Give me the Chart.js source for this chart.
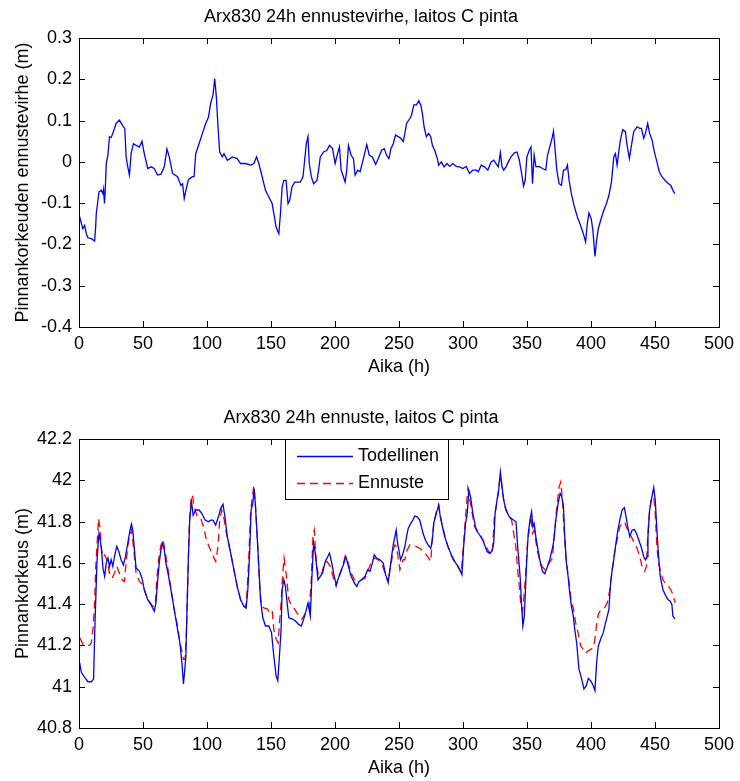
<!DOCTYPE html>
<html>
<head>
<meta charset="utf-8">
<script src="https://cdn.jsdelivr.net/npm/chart.js@4/dist/chart.umd.min.js"></script>
<style>
  html, body { margin: 0; padding: 0; background: #fff; overflow: hidden; }
  .panel { position: absolute; left: 0; width: 740px; height: 380px; }
</style>
</head>
<body>
<div class="panel" style="top:0"><canvas id="chart-error" width="740" height="380"></canvas></div>
<div class="panel" style="top:401px"><canvas id="chart-level" width="740" height="380"></canvas></div>
<script>
// axis ticks
const hourTicks = [0, 50, 100, 150, 200, 250, 300, 350, 400, 450, 500];
const errTicks = [-0.4, -0.3, -0.2, -0.1, 0, 0.1, 0.2, 0.3];
const levelTicks = [40.8, 41, 41.2, 41.4, 41.6, 41.8, 42, 42.2];

// forecast error (m)
const errHours = [0.5,3,4.4,5.7,7,9.6,12.2,13,13.5,14.8,15.6,17.4,18.7,19.2,19.9,20.5,21.3,22.6,23.8,25.1,26.4,29,31.6,34.2,35.8,36.8,38.1,39.4,40.7,42.5,44.6,47.2,49.2,51,53.7,56.2,58.8,61.4,64,66.6,68.7,70.5,73.1,77,79.6,80.9,82.2,83.5,85.5,88.6,89.9,91.2,93.8,96.4,99,101.1,102.9,104.7,106,107.3,108.6,109.9,112,113.3,115.9,119.8,123.6,126.2,130,134,136.6,138.7,140.5,143.1,145.7,148.3,150.9,152.2,154,156.1,157.4,158.7,160,161.8,163.3,164.6,166.4,168.5,170.7,172.9,175,176.3,177.6,178.9,179.9,181.5,183.3,185.9,187.2,188.5,191.1,193.7,195.7,198.1,200.1,202,203.5,204.8,206.6,207.9,209.2,210.5,212.6,214.4,215.7,217.8,219.6,222.2,224.8,226.8,229.2,231.8,233.8,236.4,238.5,240.3,242.1,243.7,245.5,247.3,249.4,251.5,253.3,254.6,255.9,258.5,259.8,261.6,263.6,265.5,267,268.3,269.6,271.4,273.2,274.8,276.1,277.9,280,281,283.1,285.2,287.5,289.6,292.2,294.7,297.3,299.9,302.5,305.1,307.7,310.3,312,314.2,316.8,319.4,322,324,325.8,327.6,329.2,330.5,331.8,333.6,335.4,337.5,340.1,342.2,344,345.8,347.3,348.6,349.9,351.8,353.1,354.3,355.6,357,359.5,362.1,364.7,366,368.1,369.9,370.7,372,373.3,375.1,376.9,378.5,380.3,381.6,382.9,384.7,386.7,389.3,391.9,394,395.8,397.1,398.4,400.2,401.5,403.1,404.4,405.7,407.5,409.6,412.1,414,416,417.8,419.1,420.4,421.7,423,424.8,426.9,428.2,430,431.6,433.4,436,438.1,439.4,441.2,442.5,444.3,445.8,447.7,449.5,451.5,453.4,455.4,458,460.6,462.4,464,465.5];
const errValues = [-0.133,-0.162,-0.154,-0.174,-0.184,-0.186,-0.192,-0.158,-0.125,-0.093,-0.073,-0.069,-0.077,-0.067,-0.101,-0.069,-0.004,0.016,0.061,0.059,0.069,0.093,0.101,0.087,0.081,0.012,-0.012,-0.032,0.02,0.044,0.04,0.036,0.05,0.02,-0.016,-0.012,-0.016,-0.032,-0.03,-0.012,0.031,0.012,-0.028,-0.036,-0.057,-0.053,-0.089,-0.069,-0.043,-0.036,-0.036,0.02,0.044,0.069,0.093,0.108,0.142,0.162,0.202,0.158,0.085,0.024,0.012,0.02,0.004,0.012,0.008,-0.004,-0.004,-0.008,-0.004,0.012,-0.004,-0.036,-0.069,-0.085,-0.101,-0.125,-0.158,-0.174,-0.125,-0.061,-0.045,-0.045,-0.101,-0.093,-0.061,-0.049,-0.049,-0.049,-0.036,0.004,0.044,0.061,-0.004,-0.036,-0.053,-0.045,-0.02,0.012,0.024,0.028,0.04,0.032,-0.004,0.02,0.036,-0.02,-0.036,-0.049,-0.02,0.04,0.016,0.008,-0.032,-0.02,-0.024,0.008,0.042,0.016,0.012,-0.006,0.008,0.028,0.032,0.016,0.008,0.032,0.044,0.065,0.061,0.057,0.049,0.069,0.093,0.105,0.113,0.138,0.138,0.148,0.138,0.117,0.085,0.061,0.069,0.061,0.04,0.028,0.008,-0.008,0,-0.012,-0.004,-0.011,-0.004,-0.011,-0.012,-0.016,-0.011,-0.028,-0.02,-0.02,-0.024,-0.008,-0.012,-0.02,0,0.004,-0.004,-0.012,0.022,-0.012,-0.02,-0.012,0,0.012,0.022,0.024,0.004,-0.028,-0.059,-0.045,0.012,0.028,0.036,-0.053,0.016,-0.012,-0.011,-0.016,-0.02,0.016,0.04,0.061,0.074,0.028,-0.02,-0.053,-0.057,-0.02,-0.019,-0.008,-0.045,-0.077,-0.105,-0.133,-0.154,-0.174,-0.194,-0.15,-0.124,-0.138,-0.166,-0.229,-0.19,-0.162,-0.142,-0.121,-0.101,-0.081,-0.049,0.012,0.02,-0.008,0.024,0.053,0.078,0.073,0.04,0.008,0.04,0.073,0.085,0.081,0.081,0.057,0.069,0.093,0.069,0.053,0.024,0,-0.024,-0.036,-0.045,-0.053,-0.057,-0.069,-0.077];

// measured water level (m)
const actualHours = [0.5,1.8,4.4,7,9.6,11.4,12.2,13,14,14.8,15.6,16.6,17.6,18.7,20,21.3,22.6,23.8,25.1,26.4,27.7,29.5,31.1,32.9,34.7,36.3,38.1,39.9,41,42,43.3,44.6,47.2,49.2,51,53.7,56.2,58.8,60.1,61.4,62.7,64,65.3,66.6,67.9,70,71.8,74.4,77,78.8,80.4,81.6,82.7,83.5,84.5,85.5,86.6,87.9,89.2,91.2,93.8,95.9,98.5,101.1,102.9,104.7,106.8,108.9,110.7,112.5,114,115.9,118.5,121,123.6,126.2,128.8,130.6,131.9,133.2,134.5,135.8,136.9,137.9,139.2,140.5,141.8,143.6,145.7,148.3,150.4,152.2,154,155.3,156.6,157.9,158.7,160,161.3,162.6,163.9,166.4,169.1,171.6,173.7,175.5,177.3,178.9,180.7,182,183.3,184.6,186.7,188.5,190.3,192.4,194.4,195.7,197.5,199.4,200.9,202.7,204.5,206.6,208.4,210.5,212.6,215.2,217,218.8,220.9,223.5,225.5,227.4,229.2,230.7,232.5,235.1,237.7,239.5,241.6,242.9,244.2,245.5,246.8,247.8,248.9,249.9,251.2,252.8,254.6,255.9,257.2,259.2,261.1,262.3,264.4,266.2,267.5,268.8,270.6,272.7,274.8,276.1,277.1,279.2,281,282.3,283.9,285.7,288.3,290.9,293.5,296.1,298.1,299.2,300.5,302,303.3,304.6,305.9,307.7,310.3,312.9,315.5,317.3,318.8,320.6,322.5,324,325.1,326.6,327.9,329.2,330.5,331.8,333.6,336.2,338.8,341.4,342.7,344,344.8,345.8,346.8,347.9,348.6,349.7,351,352.3,353.6,354.6,355.6,356.9,358.2,360,362.1,363.9,366,368.1,370.7,372.5,374.3,375.9,377.2,378.5,379.5,380.8,382.1,383.4,384.7,386.2,387.3,388.8,390.6,392.4,394.5,396.3,397.9,399.7,401.8,403.1,404.4,405.7,407.5,409.6,411.4,412.7,414,415.3,416.6,417.8,419.1,421,422.5,424.3,426.1,427.4,428.7,430.3,432.1,433.9,435.5,437.3,439.1,441.2,442.5,443.8,444.5,445.8,447.1,449,450.2,451.5,452.8,454.1,456.2,458,460.1,461.9,463.2,464,465.8];
const actualValues = [41.117,41.07,41.045,41.024,41.024,41.037,41.246,41.406,41.599,41.68,41.743,41.71,41.663,41.575,41.535,41.6,41.623,41.583,41.615,41.583,41.63,41.68,41.655,41.615,41.59,41.63,41.695,41.76,41.788,41.76,41.663,41.575,41.559,41.527,41.47,41.422,41.398,41.366,41.406,41.51,41.6,41.663,41.695,41.663,41.6,41.535,41.47,41.374,41.278,41.213,41.117,41.013,41.085,41.149,41.406,41.63,41.823,41.896,41.831,41.856,41.856,41.84,41.807,41.799,41.807,41.807,41.783,41.823,41.864,41.884,41.823,41.727,41.647,41.567,41.486,41.422,41.39,41.382,41.47,41.63,41.856,41.888,41.96,41.872,41.727,41.583,41.422,41.334,41.294,41.294,41.262,41.149,41.053,41.029,41.149,41.278,41.47,41.518,41.486,41.406,41.334,41.329,41.318,41.302,41.294,41.326,41.366,41.406,41.342,41.535,41.695,41.647,41.518,41.535,41.551,41.607,41.631,41.647,41.599,41.535,41.494,41.526,41.559,41.591,41.631,41.583,41.535,41.502,41.486,41.51,41.518,41.535,41.567,41.559,41.599,41.639,41.623,41.615,41.599,41.543,41.51,41.567,41.631,41.687,41.727,41.759,41.695,41.663,41.615,41.639,41.679,41.727,41.767,41.791,41.81,41.827,41.823,41.807,41.775,41.743,41.711,41.687,41.671,41.711,41.791,41.84,41.88,41.823,41.775,41.727,41.679,41.639,41.607,41.583,41.559,41.543,41.679,41.791,41.84,41.952,41.92,41.84,41.759,41.735,41.711,41.679,41.655,41.647,41.655,41.695,41.84,41.904,41.952,42.04,41.968,41.904,41.856,41.823,41.81,41.8,41.679,41.583,41.518,41.39,41.294,41.342,41.438,41.599,41.743,41.807,41.848,41.775,41.791,41.727,41.679,41.615,41.559,41.547,41.583,41.623,41.695,41.807,41.888,41.936,41.92,41.872,41.727,41.599,41.535,41.454,41.39,41.342,41.278,41.213,41.085,41.045,40.989,41.005,41.04,41.029,41.005,40.981,41.117,41.197,41.23,41.262,41.31,41.342,41.374,41.502,41.567,41.615,41.679,41.759,41.807,41.856,41.868,41.823,41.775,41.727,41.759,41.762,41.743,41.711,41.679,41.631,41.615,41.631,41.727,41.856,41.904,41.965,41.904,41.759,41.631,41.535,41.47,41.446,41.422,41.414,41.398,41.342,41.329];

// 24 h forecast (m)
const forecastHours = [0.5,3.1,5.7,8.3,9.6,10.9,12.2,13,14,15.3,16.6,17.6,18.7,20,21.8,23.8,25.9,27.7,29.5,31.6,33.7,35.5,36.8,38.1,39.4,41,42,43.3,44.6,47.2,49.8,51.8,54.9,57.5,59.6,60.7,62.2,64,65.8,67.9,70,72,74.4,77,78.8,80.4,81.6,82.9,84,85,86,87.4,88.6,89.9,92.5,95.1,97.7,99.5,101.6,103.7,105.5,106.8,108.6,109.9,111.5,113.3,115.1,118.5,121,123.6,126.2,128,130.1,131.4,132.7,134,135.3,136.6,137.9,139.4,141,142.6,144.4,147,148.3,150.9,152.2,154,155.6,156.6,157.9,159.2,160.2,161.8,163.9,165.1,167.7,170.3,172.1,174.2,175.5,178.1,179.9,181.5,182.8,183.8,185.4,187.2,189.8,191.8,193.7,196.3,198.8,200.9,202.7,205.3,207.9,210,212.6,215.2,218.3,220.9,223.5,226.1,228.7,230.7,233.8,236.4,239,241.6,242.9,244.2,245.5,246.8,248.1,249.4,250.7,252,253.3,254.6,255.9,258.5,261.1,263.6,266.2,268.8,271.4,273.2,274.8,276.1,277.4,279.2,281,282.6,284.5,287,290,293,296,298.6,300.5,302,303.8,305.9,307.7,309,312.9,316.8,319.4,322,323.2,324.5,326.6,328.4,329.7,331,332.8,335.4,338,341.4,342.7,344,345.3,346.6,347.9,349.2,350.5,351.8,353.1,354.3,355.6,358.2,360.8,363.9,367.3,369.9,371.7,373.3,375.1,376.4,377.7,379,380.3,381.6,382.9,384.7,386.2,388,389.9,392,394,395.8,397.6,399.7,401.8,403.1,404.4,405.7,407,408.8,410.6,412.7,414.7,416.6,418.4,420.4,422.5,424.3,426.1,428.2,430.8,433.4,436,438.1,439.9,442,443.3,444.3,445.6,447.1,449,450.2,451.5,452.8,454.1,456.2,458,460.6,462.4,464,465.8];
const forecastValues = [41.238,41.205,41.2,41.2,41.213,41.278,41.406,41.567,41.68,41.815,41.759,41.663,41.63,41.639,41.615,41.55,41.526,41.55,41.583,41.55,41.518,41.51,41.6,41.68,41.727,41.759,41.711,41.631,41.55,41.51,41.494,41.454,41.414,41.39,41.39,41.518,41.615,41.687,41.711,41.631,41.55,41.47,41.374,41.294,41.213,41.173,41.133,41.133,41.278,41.502,41.759,41.904,41.928,41.872,41.823,41.815,41.767,41.711,41.679,41.647,41.623,41.607,41.679,41.807,41.856,41.815,41.743,41.647,41.567,41.486,41.422,41.398,41.382,41.47,41.63,41.84,41.92,41.971,41.872,41.711,41.502,41.39,41.382,41.377,41.366,41.374,41.278,41.23,41.213,41.31,41.406,41.551,41.623,41.551,41.422,41.406,41.382,41.358,41.342,41.326,41.342,41.366,41.374,41.518,41.727,41.759,41.599,41.535,41.551,41.599,41.607,41.583,41.526,41.486,41.526,41.567,41.631,41.607,41.551,41.518,41.51,41.518,41.526,41.567,41.607,41.623,41.615,41.599,41.551,41.502,41.567,41.607,41.663,41.687,41.679,41.623,41.567,41.599,41.615,41.615,41.655,41.687,41.682,41.679,41.671,41.655,41.639,41.623,41.607,41.727,41.8,41.848,41.88,41.815,41.767,41.703,41.647,41.607,41.583,41.551,41.695,41.823,41.96,41.888,41.823,41.775,41.743,41.695,41.663,41.639,41.671,41.823,41.896,41.99,42.016,41.936,41.872,41.831,41.807,41.671,41.567,41.486,41.39,41.366,41.454,41.567,41.711,41.759,41.831,41.743,41.759,41.655,41.591,41.567,41.599,41.623,41.759,41.872,41.968,41.992,41.904,41.759,41.631,41.567,41.502,41.406,41.382,41.31,41.262,41.197,41.181,41.162,41.173,41.181,41.189,41.23,41.302,41.35,41.366,41.374,41.382,41.406,41.47,41.567,41.647,41.711,41.775,41.791,41.799,41.767,41.735,41.703,41.671,41.631,41.583,41.559,41.583,41.727,41.84,41.904,41.92,41.84,41.679,41.599,41.567,41.518,41.502,41.486,41.47,41.446,41.406];

const FONT = "'Liberation Sans', Arial, sans-serif";
Chart.defaults.font.family = FONT;
Chart.defaults.color = '#000';
Chart.defaults.animation = false;

const toPoints = (xs, ys) => xs.map((x, i) => ({ x, y: ys[i] }));

// MATLAB-like box with inward ticks on all four sides
const boxAxes = {
  id: 'boxAxes',
  afterDraw(chart) {
    const { ctx, chartArea: a, scales: { x, y } } = chart;
    const len = 6;
    ctx.save();
    ctx.strokeStyle = '#000';
    ctx.lineWidth = 1;
    ctx.beginPath();
    x.ticks.forEach(t => {
      const px = Math.round(x.getPixelForValue(t.value)) + 0.5;
      ctx.moveTo(px, a.bottom); ctx.lineTo(px, a.bottom - len);
      ctx.moveTo(px, a.top); ctx.lineTo(px, a.top + len);
    });
    y.ticks.forEach(t => {
      const py = Math.round(y.getPixelForValue(t.value)) + 0.5;
      ctx.moveTo(a.left, py); ctx.lineTo(a.left + len, py);
      ctx.moveTo(a.right, py); ctx.lineTo(a.right - len, py);
    });
    ctx.stroke();
    ctx.strokeRect(Math.round(a.left) + 0.5, Math.round(a.top) + 0.5,
      Math.round(a.right - a.left), Math.round(a.bottom - a.top));
    ctx.restore();
  },
};

// legend box drawn inside the plot, like MATLAB's
const boxLegend = {
  id: 'boxLegend',
  afterDraw(chart, args, opts) {
    if (!opts.show) return;
    const { ctx, chartArea: a } = chart;
    const left = a.left + opts.left, top = a.top, w = opts.width, h = opts.height;
    ctx.save();
    ctx.fillStyle = '#fff';
    ctx.fillRect(left, top, w, h);
    ctx.strokeStyle = '#000';
    ctx.lineWidth = 1;
    ctx.strokeRect(Math.round(left) + 0.5, Math.round(top) + 0.5, w, h);
    ctx.font = opts.font;
    ctx.textBaseline = 'middle';
    ctx.fillStyle = '#000';
    chart.data.datasets.forEach((ds, i) => {
      const yy = Math.round(top + opts.rowY[i]) + 0.5;
      ctx.strokeStyle = ds.borderColor;
      ctx.lineWidth = 1.3;
      ctx.setLineDash(ds.borderDash || []);
      ctx.beginPath();
      ctx.moveTo(left + 12, yy); ctx.lineTo(left + 68, yy);
      ctx.stroke();
      ctx.setLineDash([]);
      ctx.fillText(ds.label, left + 73, yy);
    });
    ctx.restore();
  },
};

function fmtTick(v) { return String(Math.round(v * 10) / 10); }

function panelOptions(title, yTitle, yMin, yMax, yTicks, legend) {
  return {
    responsive: false,
    layout: { padding: { left: 0, right: 18, top: 0, bottom: 0 } },
    elements: { point: { radius: 0 }, line: { tension: 0, borderWidth: 1.3 } },
    plugins: {
      legend: { display: false },
      tooltip: { enabled: false },
      title: {
        display: true, text: title, color: '#000',
        font: { size: 18, weight: 'normal' },
        padding: { top: 6.2, bottom: 10.2 },
      },
      boxLegend: legend,
    },
    scales: {
      x: {
        type: 'linear', min: 0, max: 500,
        afterBuildTicks: s => { s.ticks = hourTicks.map(value => ({ value })); },
        afterFit: s => { s.height = 53; },
        grid: { display: false, drawTicks: false },
        border: { display: false },
        ticks: { font: { size: 18 }, padding: 6, maxRotation: 0, autoSkip: false, callback: fmtTick },
        title: { display: true, text: 'Aika (h)', font: { size: 18 }, padding: { top: 0, bottom: 2 } },
      },
      y: {
        type: 'linear', min: yMin, max: yMax,
        afterBuildTicks: s => { s.ticks = yTicks.map(value => ({ value })); },
        afterFit: s => { s.width = 79; },
        grid: { display: false, drawTicks: false },
        border: { display: false },
        ticks: { font: { size: 18 }, padding: 7, autoSkip: false, callback: fmtTick },
        title: { display: true, text: yTitle, font: { size: 18 }, padding: { top: 12, bottom: 0 } },
      },
    },
  };
}

new Chart(document.getElementById('chart-error'), {
  type: 'line',
  data: {
    datasets: [
      { label: 'Ennustevirhe', data: toPoints(errHours, errValues), borderColor: '#0000ff', fill: false },
    ],
  },
  options: panelOptions('Arx830 24h ennustevirhe, laitos C pinta', 'Pinnankorkeuden ennustevirhe (m)', -0.4, 0.3, errTicks, { show: false }),
  plugins: [boxAxes, boxLegend],
});

new Chart(document.getElementById('chart-level'), {
  type: 'line',
  data: {
    datasets: [
      { label: 'Todellinen', data: toPoints(actualHours, actualValues), borderColor: '#0000ff', fill: false },
      { label: 'Ennuste', data: toPoints(forecastHours, forecastValues), borderColor: '#ff0000', borderDash: [8, 5], fill: false },
    ],
  },
  options: panelOptions('Arx830 24h ennuste, laitos C pinta', 'Pinnankorkeus (m)', 40.8, 42.2, levelTicks,
    { show: true, left: 206, width: 163, height: 60, rowY: [17, 44], font: "18px " + FONT }),
  plugins: [boxAxes, boxLegend],
});
</script>
</body>
</html>
